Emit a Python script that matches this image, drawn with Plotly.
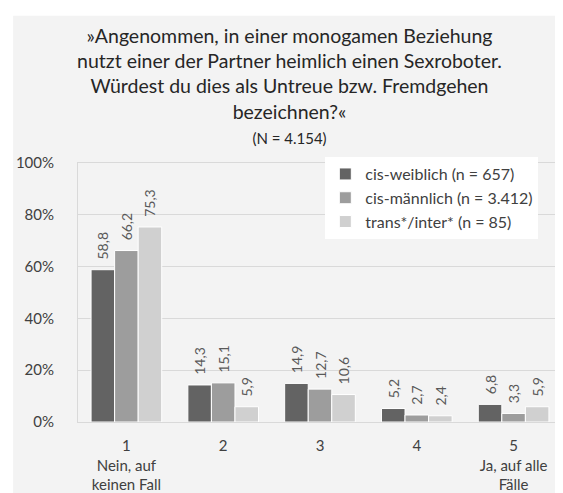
import plotly.graph_objects as go

categories = ["1<br>Nein, auf<br>keinen Fall", "2", "3", "4", "5<br>Ja, auf alle<br>Fälle"]
series_names = ["cis-weiblich (n = 657)", "cis-männlich (n = 3.412)", "trans*/inter* (n = 85)"]
cis_weiblich = [58.8, 14.3, 14.9, 5.2, 6.8]
cis_maennlich = [66.2, 15.1, 12.7, 2.7, 3.3]
trans_inter = [75.3, 5.9, 10.6, 2.4, 5.9]
colors = ["#636363", "#9d9d9d", "#d0d0d0"]
y_ticks = [0, 20, 40, 60, 80, 100]
y_tick_labels = ["0%", "20%", "40%", "60%", "80%", "100%"]

W, H = 563, 493
L, R, T, B = 70, 8, 155, 76
pw, ph = W - L - R, H - T - B

FONT = "Lato, Open Sans, sans-serif"

fig = go.Figure()
for name, vals, col in zip(series_names, [cis_weiblich, cis_maennlich, trans_inter], colors):
    fig.add_trace(go.Bar(
        x=categories, y=vals, name=name,
        marker=dict(color=col, line=dict(color="white", width=1)),
        text=["\u00a0\u00a0" + f"{v:.1f}".replace(".", ",") for v in vals],
        textposition="outside", textangle=-90, constraintext="none",
        textfont=dict(family=FONT, size=14, color="#595959"),
        cliponaxis=False,
    ))

def px_x(px):
    return (px - L) / pw

def px_y(py):
    return (H - B - py) / ph

fig.add_shape(type="rect", xref="paper", yref="paper",
              x0=px_x(5), x1=px_x(W + 5), y0=px_y(H + 5), y1=px_y(6),
              fillcolor="#f3f3f3", line=dict(width=0), layer="below")

fig.update_layout(
    width=W, height=H,
    margin=dict(l=L, r=R, t=T, b=B),
    paper_bgcolor="white", plot_bgcolor="white",
    barmode="group", bargap=0.27, bargroupgap=0.0,
    font=dict(family=FONT, size=15, color="#404040"),
    title=dict(
        text="»Angenommen, in einer monogamen Beziehung<br>nutzt einer der Partner heimlich einen Sexroboter.<br>"
             "Würdest du dies als Untreue bzw. Fremdgehen<br>bezeichnen?«<br><span style='font-size:15px'>(N = 4.154)</span>",
        x=0.5, xanchor="center", y=0.93, yanchor="top",
        font=dict(family=FONT, size=19.5, color="#262626"),
    ),
    legend=dict(
        x=0.511, y=1.023, xanchor="left", yanchor="top",
        bgcolor="white", font=dict(family=FONT, size=16, color="#404040"),
        itemwidth=30, tracegroupgap=0,
    ),
    showlegend=True,
)
fig.update_xaxes(
    showline=True, linecolor="#d9d9d9", linewidth=1, mirror=True,
    ticks="outside", ticklen=10, tickcolor="rgba(0,0,0,0)",
    tickfont=dict(family=FONT, size=15, color="#404040"),
)
fig.update_yaxes(
    range=[0, 100], tickvals=y_ticks, ticktext=y_tick_labels,
    showgrid=True, gridcolor="#d9d9d9", gridwidth=1,
    showline=True, linecolor="#d9d9d9", linewidth=1, mirror=True,
    ticks="outside", ticklen=20, tickcolor="rgba(0,0,0,0)",
    tickfont=dict(family=FONT, size=15, color="#404040"),
    zeroline=False,
)

fig.write_html("out.html")
